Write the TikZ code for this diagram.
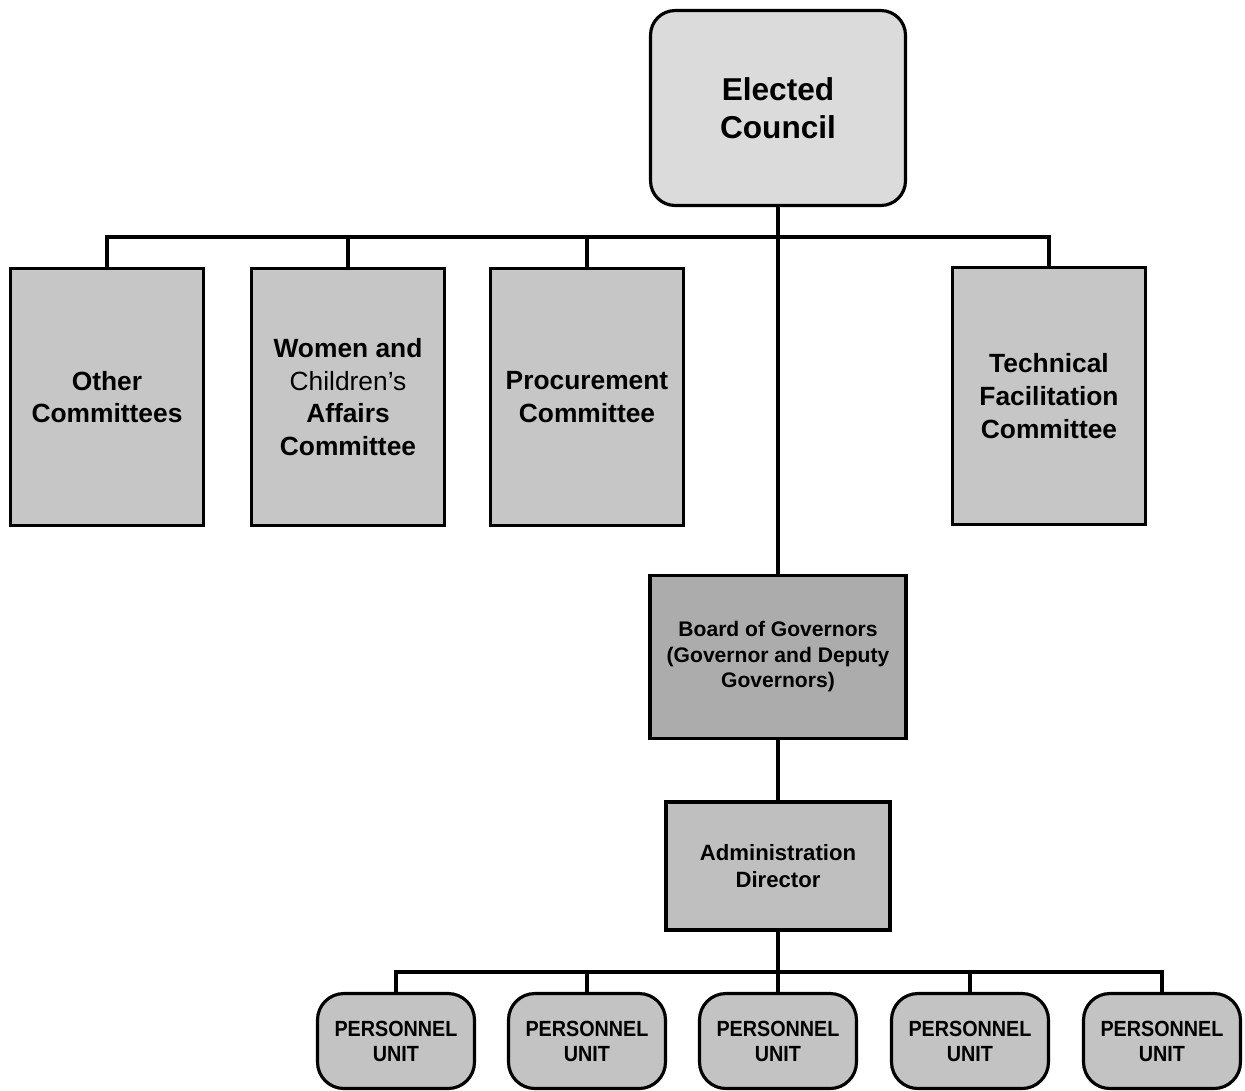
\documentclass[tikz,border=0pt]{standalone}
\usepackage{fontspec}
\setmainfont{Liberation Sans}
\newfontfamily\narrowfont[FakeStretch=0.9]{Liberation Sans}
\begin{document}
\begin{tikzpicture}[x=0.02cm,y=-0.02cm,
  box/.style={draw=black,line width=1.8pt,align=center,inner sep=2pt,font=\bfseries},
  council/.style={box,rounded corners=14pt,fill=gray!28,minimum width=5.1cm,minimum height=3.9cm,
    font=\fontsize{18}{21.5}\selectfont\bfseries},
  committee/.style={box,fill=gray!45,minimum width=3.86cm,minimum height=5.14cm,
    font=\fontsize{15}{18.6}\selectfont\bfseries},
  board/.style={box,fill=gray!65,minimum width=5.12cm,minimum height=3.26cm,
    font=\fontsize{12}{14.5}\selectfont\bfseries},
  director/.style={box,fill=gray!50,minimum width=4.48cm,minimum height=2.56cm,
    font=\fontsize{12.6}{15.3}\selectfont\bfseries},
  unitbox/.style={box,rounded corners=15pt,fill=gray!47,minimum width=3.14cm,minimum height=1.9cm,
    font=\fontsize{12.5}{14.2}\narrowfont\bfseries},
  link/.style={line width=2pt}]
\useasboundingbox[fill=white] (0,0) rectangle (1245,1090);

% governing council
\node[council] (ec) at (778,108) {Elected\\Council};

% committees
\node[committee] (oc) at (107,397) {Other\\Committees};
\node[committee] (wc) at (348,397) {Women and\\{\mdseries Children's}\\Affairs\\Committee};
\node[committee] (pc) at (587,397) {Procurement\\Committee};
\node[committee] (tf) at (1049,396) {Technical\\Facilitation\\Committee};

% executive line
\node[board] (bg) at (778,657) {Board of Governors\\(Governor and Deputy\\Governors)};
\node[director] (ad) at (778,866) {Administration\\Director};

% personnel units
\node[unitbox] (u1) at (396,1041) {PERSONNEL\\UNIT};
\node[unitbox] (u2) at (587,1041) {PERSONNEL\\UNIT};
\node[unitbox] (u3) at (778,1041) {PERSONNEL\\UNIT};
\node[unitbox] (u4) at (970,1041) {PERSONNEL\\UNIT};
\node[unitbox] (u5) at (1162,1041) {PERSONNEL\\UNIT};

% junctions of the branch bars
\coordinate (j1) at (778,237);
\coordinate (j2) at (778,972);

% connectors
\draw[link] (ec.south) -- (bg.north);
\draw[link] (oc.north) |- (j1) -| (tf.north);
\draw[link] (wc.north) -- (wc.north |- j1);
\draw[link] (pc.north) -- (pc.north |- j1);
\draw[link] (bg.south) -- (ad.north);
\draw[link] (ad.south) -- (u3.north);
\draw[link] (u1.north) |- (j2) -| (u5.north);
\draw[link] (u2.north) -- (u2.north |- j2);
\draw[link] (u4.north) -- (u4.north |- j2);
\end{tikzpicture}
\end{document}
